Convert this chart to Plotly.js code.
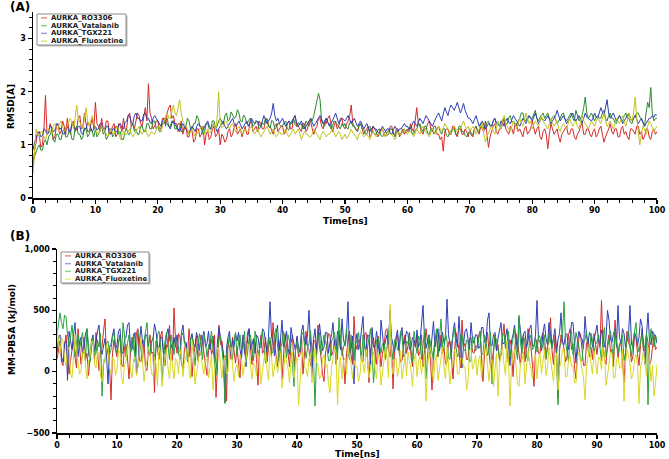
<!DOCTYPE html>
<html>
<head>
<meta charset="utf-8">
<script src="https://cdn.plot.ly/plotly-3.0.1.min.js"></script>
<style>html,body{margin:0;padding:0;background:#fff;}#chart{width:669px;height:459px;}</style>
</head>
<body>
<div id="chart"></div>
<script>
// Sampling step of the time axis (ns)
const timeStep = 0.25;

const seriesNames = ["AURKA_RO3306", "AURKA_Vatalanib", "AURKA_TGX221", "AURKA_Fluoxetine"];

// Panel A: RMSD (Å), one row = 10 ns
const rmsdRO3306 = [
0.55,0.9,1.05,1.25,1.2,0.95,1.0,1.3,1.93,1.2,1.25,1.4,1.3,1.1,1.15,1.35,1.4,1.2,1.25,1.45,1.35,1.2,1.5,1.3,1.2,1.4,1.45,1.25,1.3,1.5,1.55,1.3,1.35,1.6,1.4,1.25,1.25,1.4,1.5,1.3,
1.8,1.4,1.35,1.25,1.5,1.3,1.3,1.45,1.45,1.2,1.25,1.35,1.4,1.15,1.2,1.4,1.35,1.25,1.5,1.3,1.3,1.55,1.6,1.35,1.4,1.3,1.45,1.6,1.55,1.4,1.35,1.5,1.7,1.45,2.15,1.6,1.5,1.3,1.35,1.45,
1.45,1.3,1.3,1.5,1.5,1.35,1.6,1.7,1.75,1.5,1.55,1.4,1.4,1.25,1.3,1.45,1.2,1.3,1.35,1.15,1.15,1.3,1.25,1.05,1.1,1.3,1.3,1.15,1.2,1.35,1.0,1.2,1.25,1.1,1.15,1.3,1.35,1.15,1.2,1.3,
1.0,1.2,1.15,1.05,1.1,1.25,1.3,1.15,1.2,1.35,1.4,1.2,1.25,1.3,1.15,1.25,1.35,1.2,1.2,1.4,1.45,1.25,1.3,1.35,1.25,1.45,1.4,1.3,1.3,1.45,1.5,1.35,1.35,1.25,1.2,1.35,1.4,1.25,1.3,1.35,
1.35,1.2,1.25,1.4,1.45,1.3,1.3,1.5,1.55,1.35,1.35,1.3,1.25,1.4,1.4,1.25,1.3,1.45,1.45,1.3,1.2,1.3,1.35,1.5,1.5,1.35,1.3,1.45,1.4,1.5,1.55,1.4,1.25,1.35,1.45,1.3,1.35,1.5,1.5,1.35,
1.3,1.4,1.45,1.55,1.75,1.4,1.35,1.3,1.25,1.35,1.4,1.3,1.2,1.25,1.3,1.35,1.15,1.2,1.35,1.3,1.25,1.15,1.2,1.3,1.3,1.2,1.15,1.25,1.25,1.35,1.35,1.2,1.2,1.3,1.3,1.15,1.25,1.3,1.2,1.25,
1.3,1.25,1.4,1.3,1.25,1.45,1.7,1.4,1.35,1.25,1.2,1.3,1.3,1.4,1.45,1.3,1.25,1.35,1.35,1.2,1.2,1.1,1.15,0.88,1.25,1.3,1.3,1.2,1.2,1.35,1.35,1.2,1.15,1.3,1.3,1.2,1.2,1.3,1.25,1.15,
1.3,1.2,1.15,1.3,1.35,1.25,1.2,1.35,1.3,1.25,1.45,1.2,0.95,1.15,1.25,1.35,1.4,1.25,1.2,1.3,1.3,1.4,1.5,1.3,1.25,1.2,1.35,1.3,1.2,1.4,1.4,1.25,1.3,1.2,1.15,1.3,1.35,1.2,1.25,1.3,
1.45,1.3,1.2,1.3,1.35,1.15,1.1,1.25,1.3,1.2,0.93,1.2,1.4,1.3,1.2,1.25,1.3,1.15,1.05,1.2,1.25,1.3,1.35,1.2,1.2,1.3,1.3,1.15,1.1,1.2,1.25,1.35,1.4,1.2,1.2,1.3,1.3,1.2,1.15,1.25,
1.3,1.15,1.2,1.3,1.35,1.2,1.05,1.15,1.25,1.3,1.4,1.25,1.2,1.3,1.3,1.15,1.15,1.3,1.35,1.2,1.25,1.15,1.1,1.3,1.3,1.25,1.2,1.35,1.35,1.2,1.25,1.1,1.15,1.3,1.3,1.15,1.1,1.25,1.3,1.2,
1.25];

const rmsdVatalanib = [
0.7,0.8,0.85,0.95,1.0,0.9,0.9,1.05,1.1,1.0,1.15,1.2,1.3,1.1,1.05,1.2,1.2,1.1,1.1,1.25,1.3,1.15,1.15,1.25,1.25,1.1,1.1,1.3,1.35,1.2,1.2,1.1,1.15,1.3,1.3,1.15,1.2,1.3,1.25,1.15,
1.3,1.15,1.2,1.3,1.35,1.2,1.25,1.1,1.15,1.3,1.3,1.15,1.2,1.35,1.35,1.2,1.25,1.1,1.1,1.25,1.3,1.2,1.2,1.35,1.4,1.25,1.3,1.2,1.2,1.35,1.35,1.25,1.25,1.4,1.4,1.3,1.3,1.45,1.45,1.3,
1.35,1.25,1.25,1.4,1.4,1.5,1.5,1.35,1.35,1.45,1.45,1.3,1.3,1.4,1.4,1.25,1.25,1.35,1.35,1.5,1.45,1.3,1.3,1.4,1.4,1.55,1.5,1.35,1.35,1.2,1.25,1.4,1.4,1.3,1.3,1.45,1.45,1.3,1.35,1.45,
1.5,1.42,1.38,1.55,1.6,1.45,1.48,1.62,1.57,1.5,1.52,1.66,1.6,1.45,1.43,1.56,1.52,1.4,1.44,1.5,1.48,1.35,1.38,1.46,1.42,1.3,1.34,1.42,1.38,1.5,1.47,1.35,1.32,1.46,1.44,1.3,1.33,1.41,1.38,1.35,
1.35,1.42,1.45,1.3,1.28,1.4,1.45,1.5,1.38,1.35,1.42,1.38,1.4,1.3,1.32,1.45,1.4,1.35,1.5,1.45,1.55,1.7,1.8,1.97,1.85,1.45,1.4,1.35,1.5,1.42,1.4,1.3,1.35,1.45,1.42,1.38,1.35,1.3,1.4,1.35,
1.4,1.32,1.3,1.42,1.45,1.35,1.35,1.28,1.25,1.38,1.4,1.3,1.3,1.2,1.2,1.32,1.35,1.25,1.25,1.2,1.2,1.28,1.3,1.18,1.15,1.22,1.25,1.18,1.2,1.3,1.3,1.2,1.15,1.25,1.25,1.18,1.2,1.28,1.3,1.22,
1.25,1.32,1.35,1.22,1.2,1.28,1.3,1.38,1.4,1.3,1.25,1.35,1.35,1.22,1.2,1.3,1.3,1.2,1.25,1.32,1.35,1.25,1.2,1.3,1.3,1.18,1.15,1.22,1.25,1.3,1.3,1.2,1.2,1.35,1.35,1.25,1.25,1.18,1.15,1.22,
1.25,1.18,1.2,1.3,1.35,1.25,1.25,1.4,1.4,1.3,1.3,1.42,1.45,1.35,1.35,1.45,1.5,1.38,1.4,1.35,1.35,1.48,1.5,1.4,1.4,1.52,1.55,1.42,1.45,1.38,1.35,1.45,1.5,1.6,1.6,1.48,1.45,1.52,1.55,1.5,
1.5,1.58,1.65,1.5,1.45,1.52,1.55,1.6,1.5,1.55,1.6,1.5,1.45,1.52,1.55,1.48,1.4,1.45,1.5,1.58,1.6,1.5,1.45,1.5,1.55,1.6,1.5,1.45,1.65,1.55,1.45,1.5,1.55,1.7,1.9,1.6,1.5,1.55,1.6,1.52,
1.45,1.52,1.55,1.5,1.5,1.6,1.65,1.5,1.45,1.55,1.6,1.5,1.5,1.42,1.4,1.5,1.55,1.48,1.45,1.55,1.6,1.5,1.5,1.42,1.4,1.5,1.55,1.6,1.6,1.52,1.5,1.42,1.35,1.6,1.8,1.7,2.08,1.6,1.45,1.5,
1.5];

const rmsdTGX221 = [
0.9,1.05,1.12,1.22,1.25,1.15,1.18,1.3,1.28,1.2,1.22,1.36,1.33,1.25,1.27,1.4,1.38,1.3,1.31,1.22,1.2,1.32,1.35,1.25,1.26,1.4,1.37,1.3,1.28,1.35,1.35,1.22,1.2,1.32,1.3,1.42,1.4,1.3,1.25,1.3,
1.35,1.28,1.3,1.4,1.4,1.3,1.25,1.35,1.35,1.22,1.2,1.3,1.3,1.25,1.25,1.38,1.4,1.32,1.3,1.42,1.45,1.55,1.55,1.42,1.4,1.55,1.6,1.5,1.5,1.45,1.45,1.58,1.6,1.5,1.5,1.42,1.4,1.5,1.55,1.5,
1.45,1.38,1.35,1.45,1.5,1.42,1.4,1.35,1.3,1.4,1.45,1.38,1.35,1.3,1.25,1.32,1.4,1.35,1.3,1.25,1.2,1.3,1.35,1.3,1.25,1.35,1.4,1.35,1.3,1.25,1.35,1.4,1.45,1.35,1.3,1.35,1.4,1.32,1.25,1.3,
1.35,1.4,1.45,1.35,1.3,1.35,1.4,1.45,1.5,1.4,1.35,1.4,1.45,1.38,1.3,1.35,1.4,1.45,1.35,1.42,1.5,1.45,1.4,1.42,1.45,1.38,1.35,1.45,1.55,1.48,1.4,1.45,1.5,1.6,1.78,1.55,1.45,1.5,1.4,1.45,
1.5,1.42,1.35,1.4,1.45,1.42,1.4,1.5,1.55,1.42,1.35,1.4,1.45,1.38,1.3,1.35,1.4,1.45,1.5,1.42,1.35,1.4,1.45,1.5,1.55,1.48,1.4,1.45,1.5,1.42,1.35,1.4,1.45,1.52,1.6,1.5,1.4,1.45,1.5,1.48,
1.45,1.5,1.55,1.48,1.4,1.45,1.5,1.42,1.35,1.4,1.45,1.38,1.3,1.35,1.4,1.32,1.25,1.3,1.35,1.3,1.3,1.25,1.2,1.28,1.35,1.3,1.25,1.3,1.3,1.22,1.2,1.28,1.35,1.3,1.25,1.3,1.3,1.35,1.4,1.35,
1.35,1.3,1.3,1.38,1.45,1.4,1.35,1.42,1.5,1.45,1.4,1.48,1.55,1.5,1.45,1.4,1.35,1.42,1.5,1.55,1.6,1.52,1.45,1.58,1.7,1.62,1.55,1.68,1.75,1.7,1.65,1.72,1.8,1.7,1.6,1.68,1.78,1.65,1.55,1.5,
1.5,1.45,1.4,1.48,1.55,1.45,1.35,1.4,1.45,1.38,1.3,1.35,1.4,1.38,1.35,1.45,1.5,1.42,1.4,1.35,1.45,1.42,1.35,1.45,1.5,1.42,1.4,1.48,1.55,1.5,1.45,1.4,1.35,1.42,1.5,1.45,1.4,1.48,1.55,1.5,
1.45,1.52,1.6,1.5,1.4,1.45,1.5,1.48,1.45,1.5,1.55,1.48,1.4,1.45,1.5,1.55,1.65,1.52,1.45,1.5,1.55,1.48,1.4,1.45,1.5,1.55,1.6,1.5,1.45,1.5,1.55,1.48,1.4,1.5,1.6,1.52,1.5,1.48,1.45,1.5,
1.6,1.52,1.5,1.6,1.7,1.62,1.55,1.7,1.85,1.6,1.5,1.55,1.6,1.52,1.45,1.5,1.55,1.5,1.4,1.45,1.5,1.55,1.6,1.5,1.45,1.5,1.55,1.48,1.4,1.45,1.5,1.42,1.35,1.4,1.45,1.5,1.5,1.55,1.52,1.58,
1.55];

const rmsdFluoxetine = [
0.45,1.0,1.3,1.2,1.15,1.25,1.25,1.15,1.1,1.2,1.3,1.25,1.2,1.35,1.4,1.3,1.3,1.4,1.45,1.35,1.25,1.3,1.35,1.45,1.5,1.4,1.3,1.5,1.75,1.5,1.4,1.35,1.3,1.5,1.7,1.45,1.35,1.45,1.55,1.4,
1.3,1.22,1.2,1.28,1.35,1.3,1.25,1.2,1.15,1.25,1.3,1.22,1.2,1.3,1.35,1.28,1.1,1.18,1.25,1.2,1.2,1.25,1.3,1.22,1.15,1.2,1.25,1.3,1.35,1.25,1.2,1.25,1.3,1.22,1.15,1.2,1.25,1.22,1.2,1.28,
1.35,1.3,1.25,1.35,1.45,1.55,1.6,1.5,1.5,1.65,1.75,1.6,1.55,1.7,1.85,1.6,1.45,1.4,1.35,1.3,1.2,1.25,1.3,1.22,1.15,1.2,1.25,1.3,1.35,1.28,1.2,1.25,1.3,1.22,1.25,1.35,1.4,1.3,1.5,2.0,
1.4,1.32,1.35,1.42,1.45,1.35,1.3,1.38,1.4,1.3,1.25,1.3,1.35,1.28,1.2,1.25,1.3,1.25,1.25,1.32,1.35,1.28,1.2,1.25,1.3,1.22,1.15,1.2,1.25,1.3,1.35,1.28,1.2,1.25,1.3,1.2,1.15,1.2,1.25,1.2,
1.2,1.25,1.3,1.2,1.15,1.2,1.25,1.3,1.2,1.25,1.3,1.22,1.1,1.18,1.25,1.2,1.2,1.15,1.15,1.2,1.3,1.25,1.2,1.15,1.1,1.2,1.25,1.2,1.15,1.2,1.2,1.25,1.3,1.22,1.15,1.2,1.25,1.2,1.1,1.15,
1.2,1.12,1.15,1.22,1.3,1.22,1.2,1.15,1.1,1.2,1.25,1.2,1.15,1.18,1.2,1.15,1.1,1.2,1.25,1.2,1.15,1.2,1.2,1.25,1.3,1.2,1.15,1.22,1.25,1.2,1.2,1.15,1.1,1.18,1.25,1.2,1.2,1.25,1.3,1.25,
1.2,1.25,1.25,1.2,1.15,1.22,1.3,1.25,1.2,1.3,1.35,1.28,1.25,1.2,1.15,1.22,1.3,1.25,1.2,1.28,1.35,1.3,1.25,1.32,1.4,1.35,1.3,1.25,1.2,1.28,1.35,1.3,1.25,1.28,1.3,1.38,1.45,1.35,1.3,1.35,
1.25,1.3,1.35,1.3,1.2,1.25,1.3,1.35,1.4,1.2,1.05,1.15,1.25,1.3,1.35,1.25,1.2,1.3,1.45,1.35,1.3,1.45,1.55,1.4,1.35,1.3,1.25,1.35,1.45,1.4,1.3,1.4,1.5,1.42,1.35,1.45,1.6,1.5,1.4,1.45,
1.3,1.38,1.45,1.4,1.35,1.45,1.55,1.45,1.4,1.35,1.3,1.4,1.5,1.42,1.35,1.4,1.45,1.3,1.25,1.35,1.4,1.35,1.3,1.4,1.5,1.42,1.35,1.4,1.45,1.35,1.3,1.45,1.55,1.45,1.4,1.35,1.3,1.38,1.45,1.4,
1.35,1.45,1.5,1.45,1.4,1.5,1.6,1.45,1.35,1.4,1.45,1.38,1.3,1.4,1.5,1.45,1.4,1.48,1.55,1.45,1.35,1.45,1.6,1.5,1.45,1.6,1.9,1.5,1.2,1.0,1.2,1.35,1.3,1.2,1.35,1.45,1.4,1.3,1.25,1.3,
1.35];

// Panel B: MM-PBSA (kJ/mol), one row = 10 ns
const pbsaRO3306 = [
100,200,250,80,50,220,300,150,-20,90,200,260,120,30,350,180,60,140,280,100,150,-30,80,230,260,90,320,150,10,180,200,330,430,120,190,40,-230,150,260,180,
120,240,300,60,40,200,220,110,-60,150,280,190,150,320,350,90,80,260,240,30,10,200,300,150,160,-170,250,180,100,290,330,140,50,220,200,380,150,90,520,260,
150,310,280,60,20,190,230,120,350,210,-40,130,200,290,90,180,300,240,160,40,-30,170,260,140,180,300,-210,50,380,220,250,120,130,-240,250,190,100,280,160,70,
200,90,-50,180,280,150,130,320,350,190,60,250,240,100,-110,200,300,150,170,280,80,190,260,120,400,230,120,40,190,270,-60,160,310,210,150,40,230,300,40,170,
270,120,140,300,-20,150,330,200,180,50,90,260,250,140,380,200,120,-20,-80,150,220,310,300,130,160,260,60,230,340,180,200,90,-100,150,270,330,140,60,450,230,
180,260,250,90,80,300,320,150,-90,170,230,280,150,60,290,200,40,150,200,330,350,190,120,230,-140,160,260,300,170,80,90,220,300,150,210,320,130,40,250,200,
280,130,160,300,40,180,350,240,200,90,-150,160,270,310,120,200,300,150,190,60,80,240,250,120,-60,170,320,250,170,30,420,200,230,100,100,270,280,160,150,210,
200,290,330,120,-80,150,250,320,160,40,60,210,300,170,220,90,130,280,390,200,180,60,260,210,-40,150,310,240,150,50,230,300,80,180,350,260,200,50,-120,180,
260,150,150,280,320,160,100,210,240,440,170,60,300,200,-220,160,300,250,190,80,120,300,350,180,230,40,-60,150,280,310,160,50,50,230,270,180,200,100,310,240,
140,260,200,580,220,100,60,230,300,160,180,40,420,260,110,200,250,90,-90,150,330,240,200,80,130,290,270,150,50,220,350,160,180,300,240,60,90,200,300,180,
200];

const pbsaVatalanib = [
150,280,300,120,80,230,250,-70,330,260,180,300,400,180,120,240,280,130,200,310,350,150,90,260,300,160,250,330,380,200,140,220,270,130,-100,200,220,300,350,180,
220,330,350,160,150,260,280,380,400,200,180,260,320,-20,60,250,370,240,200,300,300,160,140,250,260,390,330,210,190,280,280,150,150,300,350,270,230,180,280,200,
300,180,160,320,380,240,240,150,120,260,310,230,200,320,270,130,150,280,330,200,230,330,180,260,290,160,20,250,360,280,210,140,-250,190,280,330,140,260,200,310,
250,320,180,100,300,210,40,260,350,180,220,270,150,300,280,190,200,350,330,220,160,280,570,290,240,130,300,380,170,260,420,200,250,330,190,140,360,280,230,170,
290,200,160,330,380,250,220,300,500,200,-40,260,350,180,260,390,300,170,200,320,320,150,240,300,400,220,170,330,290,180,430,260,210,310,570,150,180,290,-100,230,
310,180,230,350,450,200,180,300,290,60,360,200,200,330,250,140,420,300,190,250,300,220,500,280,230,160,280,340,170,300,360,220,250,330,310,180,200,280,260,200,
340,200,240,380,540,280,190,250,300,150,260,410,200,300,350,170,250,320,230,280,590,300,220,150,320,400,280,200,450,260,30,220,330,350,260,180,400,270,230,300,
300,190,200,360,360,240,250,420,480,220,210,300,320,170,270,350,400,230,230,280,350,220,50,250,300,380,260,160,440,300,220,310,330,200,250,350,380,210,210,300,
580,260,240,170,320,390,270,220,400,300,200,280,350,150,260,310,480,240,220,300,310,180,250,400,400,230,70,260,330,280,270,190,450,300,230,320,300,200,260,330,
380,250,220,340,300,200,270,500,420,260,240,310,350,200,540,280,230,350,310,200,260,300,540,220,200,320,290,210,280,430,380,200,60,300,480,250,220,330,300,280,
230];

const pbsaTGX221 = [
300,420,480,400,350,460,450,300,200,280,380,250,120,200,300,180,250,320,180,90,350,240,80,200,280,130,150,260,200,310,-200,60,100,230,250,140,180,280,320,200,
150,250,280,120,400,300,120,230,300,150,200,310,80,190,330,260,180,90,250,330,400,200,130,240,280,90,190,300,330,220,-80,130,250,320,180,100,300,220,140,260,
260,150,100,290,320,230,200,80,150,260,280,170,50,200,230,310,170,100,300,240,120,210,250,330,190,80,-30,180,270,290,150,60,-260,130,220,300,180,100,260,320,
130,250,300,180,200,330,80,150,260,300,170,90,330,260,120,200,240,330,190,70,100,260,280,150,160,300,350,180,90,200,230,330,190,110,300,250,150,60,-120,180,
250,150,180,300,320,200,110,190,230,340,170,100,-280,120,260,320,140,210,300,240,200,90,90,250,270,320,180,100,440,260,130,200,240,350,160,100,300,210,100,260,
230,320,170,90,300,240,120,190,260,350,190,-90,80,260,280,200,150,230,240,100,190,300,420,180,100,260,250,180,170,330,290,120,140,250,230,300,180,80,330,250,
150,290,260,100,200,330,-60,150,300,230,170,90,240,350,130,260,430,200,190,310,250,110,100,230,280,350,200,120,150,300,300,180,170,260,240,80,90,280,280,170,
190,260,330,150,140,300,250,130,180,320,-100,150,290,260,200,110,150,300,310,190,230,330,120,200,270,350,180,100,460,230,150,290,240,120,90,260,300,180,200,280,
160,300,280,180,220,300,110,200,300,250,190,260,250,130,-270,200,230,300,570,250,170,80,280,330,140,200,320,260,200,100,90,240,260,330,180,120,310,260,150,220,
240,300,180,90,300,360,120,190,260,330,200,100,340,260,150,230,230,300,90,150,280,330,190,120,250,310,400,220,160,250,300,190,210,320,-270,200,350,280,200,300,
250];

const pbsaFluoxetine = [
350,220,150,280,250,100,50,180,200,-10,-50,120,300,180,100,-20,0,150,180,60,-60,80,120,250,250,60,30,170,150,-40,-80,100,80,220,200,30,-20,120,100,-30,
20,180,150,-40,-100,60,80,210,200,10,-50,100,120,-30,40,170,280,90,-80,30,90,200,160,-20,-30,120,60,-110,200,140,-120,20,100,180,30,-60,150,60,-60,110,
80,-20,180,120,-40,90,120,200,20,-60,250,120,-100,-10,60,170,150,40,-20,100,100,-50,30,140,-150,10,80,200,180,30,-50,90,120,-20,0,170,200,60,-80,20,
60,-40,140,100,-30,60,100,230,210,50,-60,70,50,-30,150,90,-100,20,80,170,20,-70,170,120,-40,60,110,-10,60,150,-130,-20,150,80,30,-90,90,160,-50,50,
120,-270,-80,80,160,40,20,-40,100,150,-90,60,190,80,50,-60,-30,100,140,30,60,-100,-170,40,100,210,150,-270,30,120,-60,90,110,-20,200,130,70,-60,90,40,
40,-80,-20,130,60,-10,180,100,-50,20,90,160,20,-60,150,80,-110,10,70,200,120,-50,550,60,-20,100,110,-40,40,170,-60,50,130,-30,160,90,10,-120,90,150,
-40,80,120,-20,50,140,-240,30,160,200,20,-90,90,140,-70,20,140,200,30,-60,200,60,-100,20,80,180,150,-20,-20,110,110,40,40,-150,-80,180,180,20,60,130,
-30,90,130,-50,50,200,190,40,-80,60,100,-120,20,150,-200,60,150,200,60,-30,250,90,-280,40,120,180,40,-100,-120,70,90,160,-100,20,170,80,30,-60,100,140,
-60,100,150,-20,70,180,-30,40,200,90,20,-80,110,150,-150,30,80,180,180,-40,-40,90,130,40,50,-90,-90,120,160,80,30,-50,-230,40,120,200,60,-20,170,90,
-20,120,100,20,200,150,-110,-30,60,160,150,-50,-50,100,120,30,30,180,-240,60,180,120,70,-60,-20,100,140,60,-260,40,90,170,40,-40,200,120,-80,50,-200,-100,
60];

const xTickVals = [0,10,20,30,40,50,60,70,80,90,100];

// ---- styling ----
const colA = ['#d42a2a', '#2b8a2b', '#2c3db3', '#c2c21e'];   // RO3306, Vatalanib, TGX221, Fluoxetine
const colB = ['#d42a2a', '#2c3fb5', '#27a13a', '#d8d822'];
const lightA = ['#f08a8a', '#8cc88c', '#9aa4e6', '#e2e27a'];
const lightB = ['#f08a8a', '#9aa4e6', '#86d88e', '#eeee7a'];

function times(arr){ return arr.map((_, i) => i * timeStep); }
function tr(y, color, xa, ya, name){
  return {x: times(y), y: y, type:'scatter', mode:'lines', name: name, showlegend:false,
          xaxis: xa, yaxis: ya, line:{color: color, width: 1}, hoverinfo:'skip'};
}

const rmsdSeries = [rmsdRO3306, rmsdVatalanib, rmsdTGX221, rmsdFluoxetine];
const pbsaSeries = [pbsaRO3306, pbsaVatalanib, pbsaTGX221, pbsaFluoxetine];
const data = [];
rmsdSeries.forEach((s, i) => data.push(tr(s, colA[i], 'x', 'y', seriesNames[i])));
pbsaSeries.forEach((s, i) => data.push(tr(s, colB[i], 'x2', 'y2', seriesNames[i])));

const FONT = 'DejaVu Sans, Verdana, sans-serif';
const tickFont = {family: FONT, size: 8, color: '#000', weight: 'bold'};
function axis(extra){
  return Object.assign({
    showline:true, linecolor:'#000', linewidth:1.5, mirror:false,
    ticks:'outside', ticklen:4, tickwidth:1.2, tickcolor:'#000',
    showgrid:false, zeroline:false, tickfont: tickFont, fixedrange:true
  }, extra);
}

// plot area: x 33..657 px, y 12..433 px
const W = 669, H = 459, mL = 33, mR = 12, mT = 12, mB = 26;
const pw = W - mL - mR, ph = H - mT - mB;
const px = v => (v - mL) / pw;
const py = v => (H - mB - v) / ph;

const annotations = [
  {text:'<b>(A)</b>', xref:'paper', yref:'paper', x:px(8), y:py(7), xanchor:'left', yanchor:'middle',
   showarrow:false, font:{family:FONT, size:12, color:'#000'}},
  {text:'<b>(B)</b>', xref:'paper', yref:'paper', x:px(8), y:py(236), xanchor:'left', yanchor:'middle',
   showarrow:false, font:{family:FONT, size:12, color:'#000'}},
  {text:'<b>RMSD[Å]</b>', xref:'paper', yref:'paper', x:px(11), y:py(107), xanchor:'center', yanchor:'middle',
   textangle:-90, showarrow:false, font:{family:FONT, size:9, color:'#000'}},
  {text:'<b>MM-PBSA (kJ/mol)</b>', xref:'paper', yref:'paper', x:px(12), y:py(330), xanchor:'center', yanchor:'middle',
   textangle:-90, showarrow:false, font:{family:FONT, size:9, color:'#000'}},
  {text:'<b>Time[ns]</b>', xref:'paper', yref:'paper', x:px(345), y:py(221), xanchor:'center', yanchor:'middle',
   showarrow:false, font:{family:FONT, size:9, color:'#000'}},
  {text:'<b>Time[ns]</b>', xref:'paper', yref:'paper', x:px(357), y:py(454), xanchor:'center', yanchor:'middle',
   showarrow:false, font:{family:FONT, size:9, color:'#000'}}
];
const shapes = [];

// hand-built legend boxes (compact, like the original)
function addLegend(x0, y0, x1, y1, colors){
  shapes.push({type:'rect', xref:'paper', yref:'paper', x0:px(x0+1.5), x1:px(x1+1.5), y0:py(y0+1.5), y1:py(y1+1.5),
               line:{width:0}, fillcolor:'#bbbbbb', layer:'above'});
  shapes.push({type:'rect', xref:'paper', yref:'paper', x0:px(x0), x1:px(x1), y0:py(y0), y1:py(y1),
               line:{color:'#8a8a8a', width:1}, fillcolor:'#ffffff', layer:'above'});
  const step = (y1 - y0) / 4;
  seriesNames.forEach((n, i) => {
    const yc = y0 + step * (i + 0.5);
    shapes.push({type:'line', xref:'paper', yref:'paper', x0:px(x0+4), x1:px(x0+10), y0:py(yc), y1:py(yc),
                 line:{color:colors[i], width:1.5}, layer:'above'});
    annotations.push({text:'<b>' + n + '</b>', xref:'paper', yref:'paper', x:px(x0+12), y:py(yc),
                      xanchor:'left', yanchor:'middle', showarrow:false,
                      font:{family:FONT, size:7, color:'#222'}});
  });
}
addLegend(37, 14, 126, 45, lightA);
addLegend(61, 252, 149, 283, lightB);

const layout = {
  width: W, height: H,
  margin: {l: mL, r: mR, t: mT, b: mB},
  paper_bgcolor:'#fff', plot_bgcolor:'#fff',
  showlegend:false,
  xaxis: axis({domain:[0,1], anchor:'y', range:[0,100], tickvals:xTickVals,
               minor:{dtick:2, ticks:'outside', ticklen:3, tickwidth:1, tickcolor:'#000'}}),
  yaxis: axis({domain:[py(198), py(12)], anchor:'x', range:[0,3.5], dtick:1, tick0:0,
               minor:{dtick:0.2, ticks:'outside', ticklen:3, tickwidth:1, tickcolor:'#000'}}),
  xaxis2: axis({domain:[px(57),1], anchor:'y2', range:[0,100], tickvals:xTickVals,
               minor:{dtick:2, ticks:'outside', ticklen:3, tickwidth:1, tickcolor:'#000'}}),
  yaxis2: axis({domain:[0, py(249)], anchor:'x2', range:[-500,1000], dtick:500, tick0:0, tickformat:',',
               minor:{dtick:100, ticks:'outside', ticklen:3, tickwidth:1, tickcolor:'#000'}}),
  annotations: annotations,
  shapes: shapes
};

Plotly.newPlot('chart', data, layout, {staticPlot:true, displayModeBar:false});
</script>
</body>
</html>
